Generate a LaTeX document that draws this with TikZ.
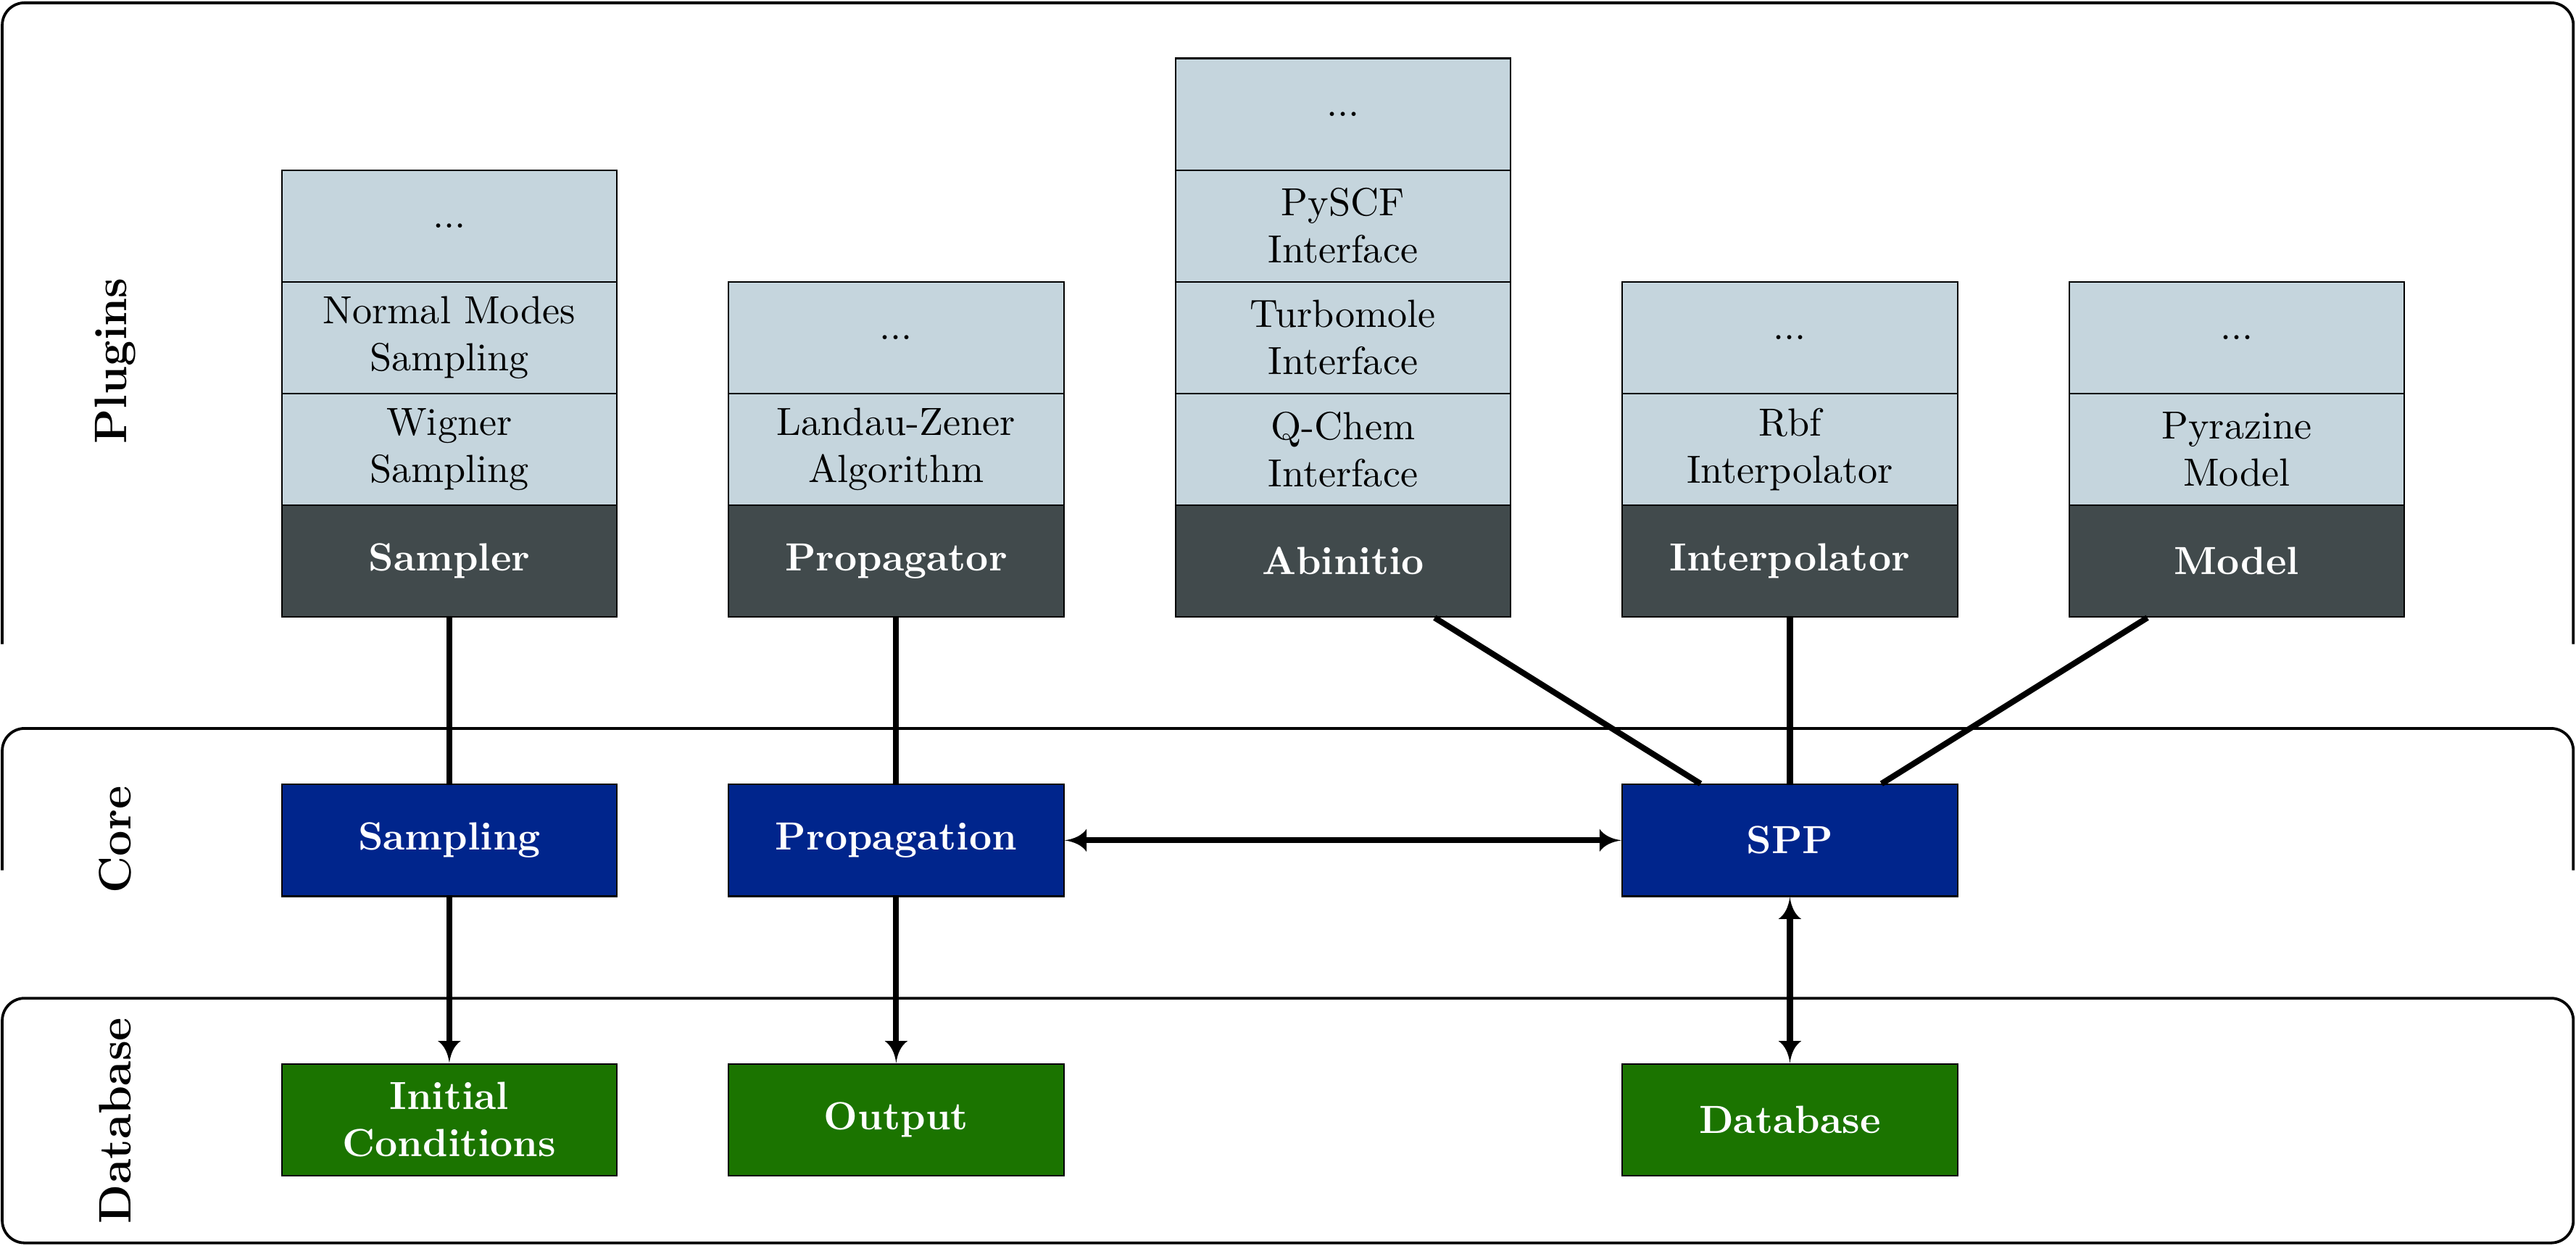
\documentclass[tikz,border=0pt]{standalone}
\usetikzlibrary{arrows.meta,calc}
\definecolor{plugcol}{HTML}{C5D5DD}
\definecolor{basecol}{HTML}{414A4C}
\definecolor{corecol}{HTML}{00258C}
\definecolor{dbcol}{HTML}{1B7400}
\pgfdeclarearrow{
  name = Cusp,
  parameters = {\the\pgfarrowlength,\the\pgfarrowwidth},
  setup code = {
    \pgfarrowssettipend{0pt}
    \pgfarrowssetlineend{-.8\pgfarrowlength}
    \pgfarrowssetbackend{-\pgfarrowlength}
    \pgfarrowssetvisualbackend{-\pgfarrowlength}
    \pgfarrowshullpoint{0pt}{0pt}
    \pgfarrowshullpoint{-\pgfarrowlength}{.5\pgfarrowwidth}
    \pgfarrowshullpoint{-\pgfarrowlength}{-.5\pgfarrowwidth}
    \pgfarrowssavethe\pgfarrowlength
    \pgfarrowssavethe\pgfarrowwidth
  },
  drawing code = {
    \pgfpathmoveto{\pgfqpoint{0pt}{0pt}}
    \pgfpathcurveto{\pgfqpoint{-.45\pgfarrowlength}{.06\pgfarrowwidth}}{\pgfqpoint{-.8\pgfarrowlength}{.22\pgfarrowwidth}}{\pgfqpoint{-\pgfarrowlength}{.5\pgfarrowwidth}}
    \pgfpathlineto{\pgfqpoint{-\pgfarrowlength}{-.5\pgfarrowwidth}}
    \pgfpathcurveto{\pgfqpoint{-.8\pgfarrowlength}{-.22\pgfarrowwidth}}{\pgfqpoint{-.45\pgfarrowlength}{-.06\pgfarrowwidth}}{\pgfqpoint{0pt}{0pt}}
    \pgfpathclose
    \pgfusepathqfill
  },
  defaults = {length=5.6pt, width=5.8pt}
}
\begin{document}
\begin{tikzpicture}[x=1cm,y=1cm,
  box/.style={draw=black, line width=0.4pt, minimum width=3cm, minimum height=1cm,
    inner sep=0pt, align=center, text width=2.9cm, anchor=north west},
  plug/.style={box, fill=plugcol},
  base/.style={box, fill=basecol, text=white, font=\bfseries},
  corebox/.style={box, fill=corecol, text=white, font=\bfseries},
  dbbox/.style={box, fill=dbcol, text=white, font=\bfseries},
  frame/.style={line width=0.7pt, rounded corners=0.2cm},
  layer/.style={rotate=90, font=\fontsize{11.6}{14}\selectfont\bfseries},
  conn/.style={line width=1.5pt},
  arr/.style={conn, -{Cusp}},
  darr/.style={conn, {Cusp}-{Cusp}},
]
\useasboundingbox (0,0) rectangle (23.059,-11.147);

% layer frames
\draw[frame] (0.02,-5.765) -- (0.02,-0.025) -- (23.035,-0.025) -- (23.035,-5.765);
\draw[frame] (0.02,-7.79) -- (0.02,-6.52) -- (23.035,-6.52) -- (23.035,-7.79);
\draw[frame] (0.02,-8.935) rectangle (23.035,-11.125);

% layer labels
\node[layer] (lplug) at (1.03,-3.23) {Plugins};
\node[layer] (lcore) at (1.03,-7.515) {Core};
\node[layer] (ldb) at (1.03,-10.03) {Database};

% column 1
\node[plug] (s3) at (2.515,-1.515) {...};
\node[plug] (s2) at (2.515,-2.515) {Normal Modes\\Sampling};
\node[plug] (s1) at (2.515,-3.515) {Wigner\\Sampling};
\node[base] (sampler) at (2.515,-4.515) {Sampler};
\node[corebox] (sampling) at (2.515,-7.015) {Sampling};
\node[dbbox] (initc) at (2.515,-9.515) {Initial\\Conditions};

% column 2
\node[plug] (p2) at (6.515,-2.515) {...};
\node[plug] (p1) at (6.515,-3.515) {Landau-Zener\\Algorithm};
\node[base] (propagator) at (6.515,-4.515) {Propagator};
\node[corebox] (propagation) at (6.515,-7.015) {Propagation};
\node[dbbox] (output) at (6.515,-9.515) {Output};

% column 3
\node[plug] (a4) at (10.515,-0.515) {...};
\node[plug] (a3) at (10.515,-1.515) {PySCF\\Interface};
\node[plug] (a2) at (10.515,-2.515) {Turbomole\\Interface};
\node[plug] (a1) at (10.515,-3.515) {Q-Chem\\Interface};
\node[base] (abinitio) at (10.515,-4.515) {Abinitio};

% column 4
\node[plug] (i2) at (14.515,-2.515) {...};
\node[plug] (i1) at (14.515,-3.515) {Rbf\\Interpolator};
\node[base] (interp) at (14.515,-4.515) {Interpolator};
\node[corebox] (spp) at (14.515,-7.015) {SPP};
\node[dbbox] (db) at (14.515,-9.515) {Database};

% column 5
\node[plug] (m2) at (18.515,-2.515) {...};
\node[plug] (m1) at (18.515,-3.515) {Pyrazine\\Model};
\node[base] (model) at (18.515,-4.515) {Model};

% connectors
\draw[conn] (sampler) -- (sampling);
\draw[arr] (sampling) -- (initc);
\draw[conn] (propagator) -- (propagation);
\draw[arr] (propagation) -- (output);
\draw[darr] (propagation) -- (spp);
\draw[conn] ([xshift=0.82cm]abinitio.south) -- ([xshift=-0.8cm]spp.north);
\draw[conn] (interp) -- (spp);
\draw[conn] ([xshift=-0.8cm]model.south) -- ([xshift=0.82cm]spp.north);
\draw[darr] (spp) -- (db);
\end{tikzpicture}
\end{document}
